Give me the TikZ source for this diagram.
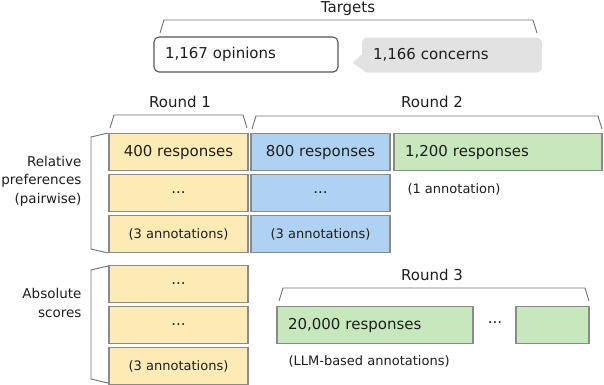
\documentclass[tikz,border=0pt]{standalone}
\usepackage{fontspec}
\setmainfont{DejaVu Sans}
\usepackage{xcolor}
\usepackage{tikz}
\usetikzlibrary{positioning}
\definecolor{roundonefill}{HTML}{FDEBB6}
\definecolor{roundtwofill}{HTML}{B0D2F2}
\definecolor{greenfill}{HTML}{C7E8BC}
\definecolor{boxdraw}{HTML}{8A8A8A}
\definecolor{bubblefill}{HTML}{E2E2E2}
\definecolor{bubbledraw}{HTML}{555555}
\definecolor{bracecolor}{HTML}{707070}
\definecolor{textcolor}{HTML}{1E1E1E}
\tikzset{
  response box/.style={
    draw=boxdraw,
    line width=1.2pt,
    minimum height=37pt,
    inner sep=0pt,
    font=\fontsize{15}{18}\selectfont,
    text=textcolor
  },
  yellow box/.style={
    response box,
    fill=roundonefill,
    minimum width=139pt
  },
  blue box/.style={
    response box,
    fill=roundtwofill,
    minimum width=139pt
  },
  green box/.style={
    response box,
    fill=greenfill,
    inner xsep=11pt,
    align=left
  },
  target box/.style={
    rounded corners=5pt,
    line width=1.1pt,
    minimum height=35pt,
    inner xsep=11pt,
    inner ysep=0pt,
    align=left,
    font=\fontsize{15}{18}\selectfont,
    text=textcolor
  },
  small note/.style={
    font=\fontsize{13}{16}\selectfont,
    text=textcolor
  },
  round title/.style={
    font=\fontsize{15}{18}\selectfont,
    text=textcolor
  },
  side title/.style={
    font=\fontsize{13.5}{18.5}\selectfont,
    text=textcolor,
    align=right,
    anchor=east
  },
  brace line/.style={
    draw=bracecolor,
    line width=0.9pt
  }
}
\newcommand{\roundbrace}[3]{%
  \draw[brace line] ({#1-4},{#3+13}) -- (#1,#3) -- (#2,#3) -- ({#2+4},{#3+13});
}
\newcommand{\sidebrace}[2]{%
  \draw[brace line] (108,{#1-4}) -- (91,#1) -- (91,#2) -- (108,{#2+4});
}
\begin{document}
\begin{tikzpicture}[x=1pt,y=-1pt]
  \useasboundingbox (0,0) rectangle (604,384);
  \clip (0,0) rectangle (604,384);

  % targets
  \node[round title] (targets) at (348,9) {Targets};
  \roundbrace{164}{533}{20}
  \node[target box,draw=bubbledraw,fill=white,text width=162pt] (opinions) at (246,54.5) {1,167 opinions};
  \node[target box,fill=bubblefill,text width=158pt] (concerns) at (452,55) {1,166 concerns};
  \fill[bubblefill] ([xshift=2pt,yshift=2pt]concerns.west) -- ([xshift=-9pt,yshift=-8pt]concerns.west)
    -- ([xshift=2pt,yshift=-15pt]concerns.west) -- cycle;

  % rounds 1 and 2
  \node[round title] (round-1) at (180,102) {Round 1};
  \node[round title] (round-2) at (432,102) {Round 2};
  \roundbrace{114}{243}{115}
  \roundbrace{256}{598}{116}

  \node[yellow box] (R1-1) at (178.5,152) {400 responses};
  \node[yellow box] (R1-2) at (178.5,193) {...};
  \node[yellow box,small note] (R1-3) at (178.5,234) {(3 annotations)};

  \node[blue box] (R2-1) at (320.5,152) {800 responses};
  \node[blue box] (R2-2) at (320.5,193) {...};
  \node[blue box,small note] (R2-3) at (320.5,234) {(3 annotations)};

  \node[green box,text width=186pt] (R2-4) at (498,152) {1,200 responses};
  \node[small note,anchor=west] (R2-note) at (404,189) {(1 annotation)};

  \sidebrace{137}{249}
  \node[side title] (relative) at (85,181) {Relative\\preferences\\(pairwise)};

  % absolute scores
  \node[yellow box] (A-1) at (178.5,284) {...};
  \node[yellow box] (A-2) at (178.5,325) {...};
  \node[yellow box,small note] (A-3) at (178.5,366) {(3 annotations)};

  \sidebrace{270}{379}
  \node[side title] (absolute) at (85,303) {Absolute\\scores};

  % round 3
  \node[round title] (round-3) at (432,275) {Round 3};
  \roundbrace{283}{585}{288}
  \node[green box,text width=174pt] (R3-1) at (375,325) {20,000 responses};
  \node[round title] (R3-dots) at (495,323) {...};
  \node[green box,minimum width=73pt] (R3-2) at (552.5,325) {};
  \node[small note,anchor=west] (R3-note) at (285,361) {(LLM-based annotations)};
\end{tikzpicture}
\end{document}
